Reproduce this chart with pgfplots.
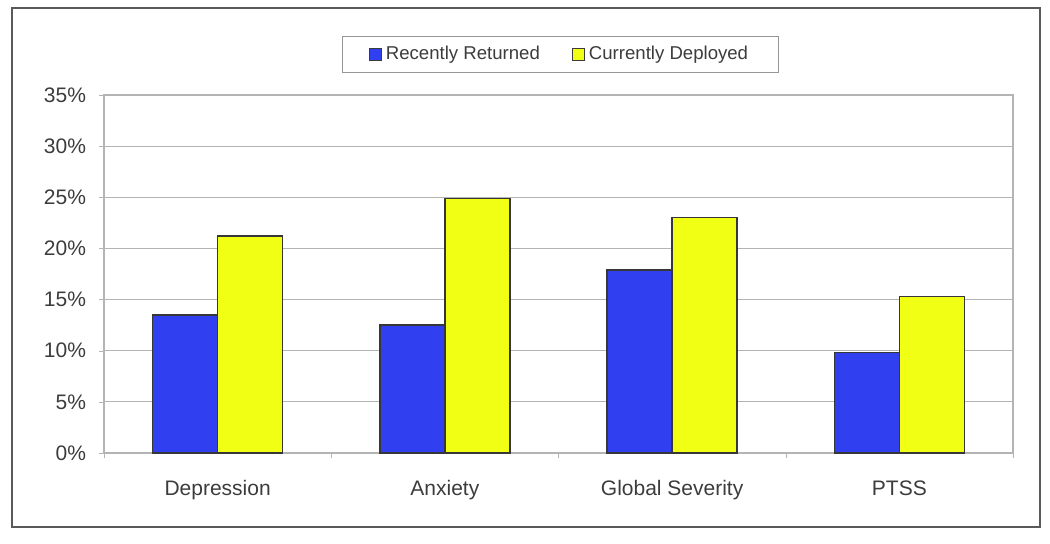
\documentclass[border=0pt]{standalone}
\usepackage{pgfplots}
\pgfplotsset{compat=1.18}
\usepackage{fontspec}
\setmainfont{Liberation Sans}
\definecolor{barblue}{RGB}{48,64,240}
\definecolor{baryellow}{RGB}{240,255,20}
\definecolor{txt}{RGB}{60,60,60}
\definecolor{gridc}{RGB}{180,180,180}
\begin{document}
\begin{tikzpicture}[x=0.5pt,y=-0.5pt]
\useasboundingbox (0,0) rectangle (1050,543);
\draw[line width=1.1pt, draw={rgb,255:red,90;green,90;blue,90}] (12,8) rectangle (1040,527);
\coordinate (A) at (104,453);
\begin{axis}[
  at={(A)}, anchor=south west,
  scale only axis, width=454.5pt, height=179pt,
  ybar=0pt, bar width=32.5pt,
  xmin=-0.5, xmax=3.5, ymin=0, ymax=35,
  xtick={0,1,2,3},
  xticklabels={Depression,Anxiety,Global Severity,PTSS},
  major x tick style={draw=none},
  minor xtick={-0.5,0.5,1.5,2.5,3.5},
  minor x tick style={draw=gridc},
  xtick pos=bottom, ytick pos=left,
  ytick={0,5,...,35},
  yticklabel={\pgfmathprintnumber{\tick}\%},
  tick align=outside,
  major tick length=2.5pt, minor tick length=2.5pt,
  y tick style={draw=gridc},
  ymajorgrids, grid style={draw=gridc, line width=0.6pt},
  axis line style={draw=gridc, line width=0.6pt},
  tick label style={font=\fontsize{10.5}{12}\selectfont, text=txt},
  /pgf/number format/assume math mode=true,
  xticklabel style={yshift=-7pt, text height=1.6ex, text depth=0.45ex},
  yticklabel style={xshift=-3pt},
  legend style={at={(0.5,1)}, anchor=south, yshift=11pt, xshift=1pt,
    draw={rgb,255:red,150;green,150;blue,150}, line width=0.5pt,
    font=\fontsize{9.3}{11}\selectfont, text=txt,
    legend columns=2, inner xsep=13pt, inner ysep=3pt,
    /tikz/every even column/.append style={column sep=14pt}},
  legend image code/.code={\draw[#1, draw={rgb,255:red,60;green,60;blue,60}, line width=0.5pt] (0pt,-3pt) rectangle (6pt,3pt);},
  every axis plot/.append style={draw={rgb,255:red,55;green,55;blue,55}, line width=0.7pt},
]
\addplot[fill=barblue] coordinates {(0,13.5) (1,12.5) (2,17.9) (3,9.8)};
\addplot[fill=baryellow] coordinates {(0,21.2) (1,24.9) (2,23.0) (3,15.3)};
\legend{Recently Returned,Currently Deployed}
\end{axis}
\end{tikzpicture}
\end{document}
